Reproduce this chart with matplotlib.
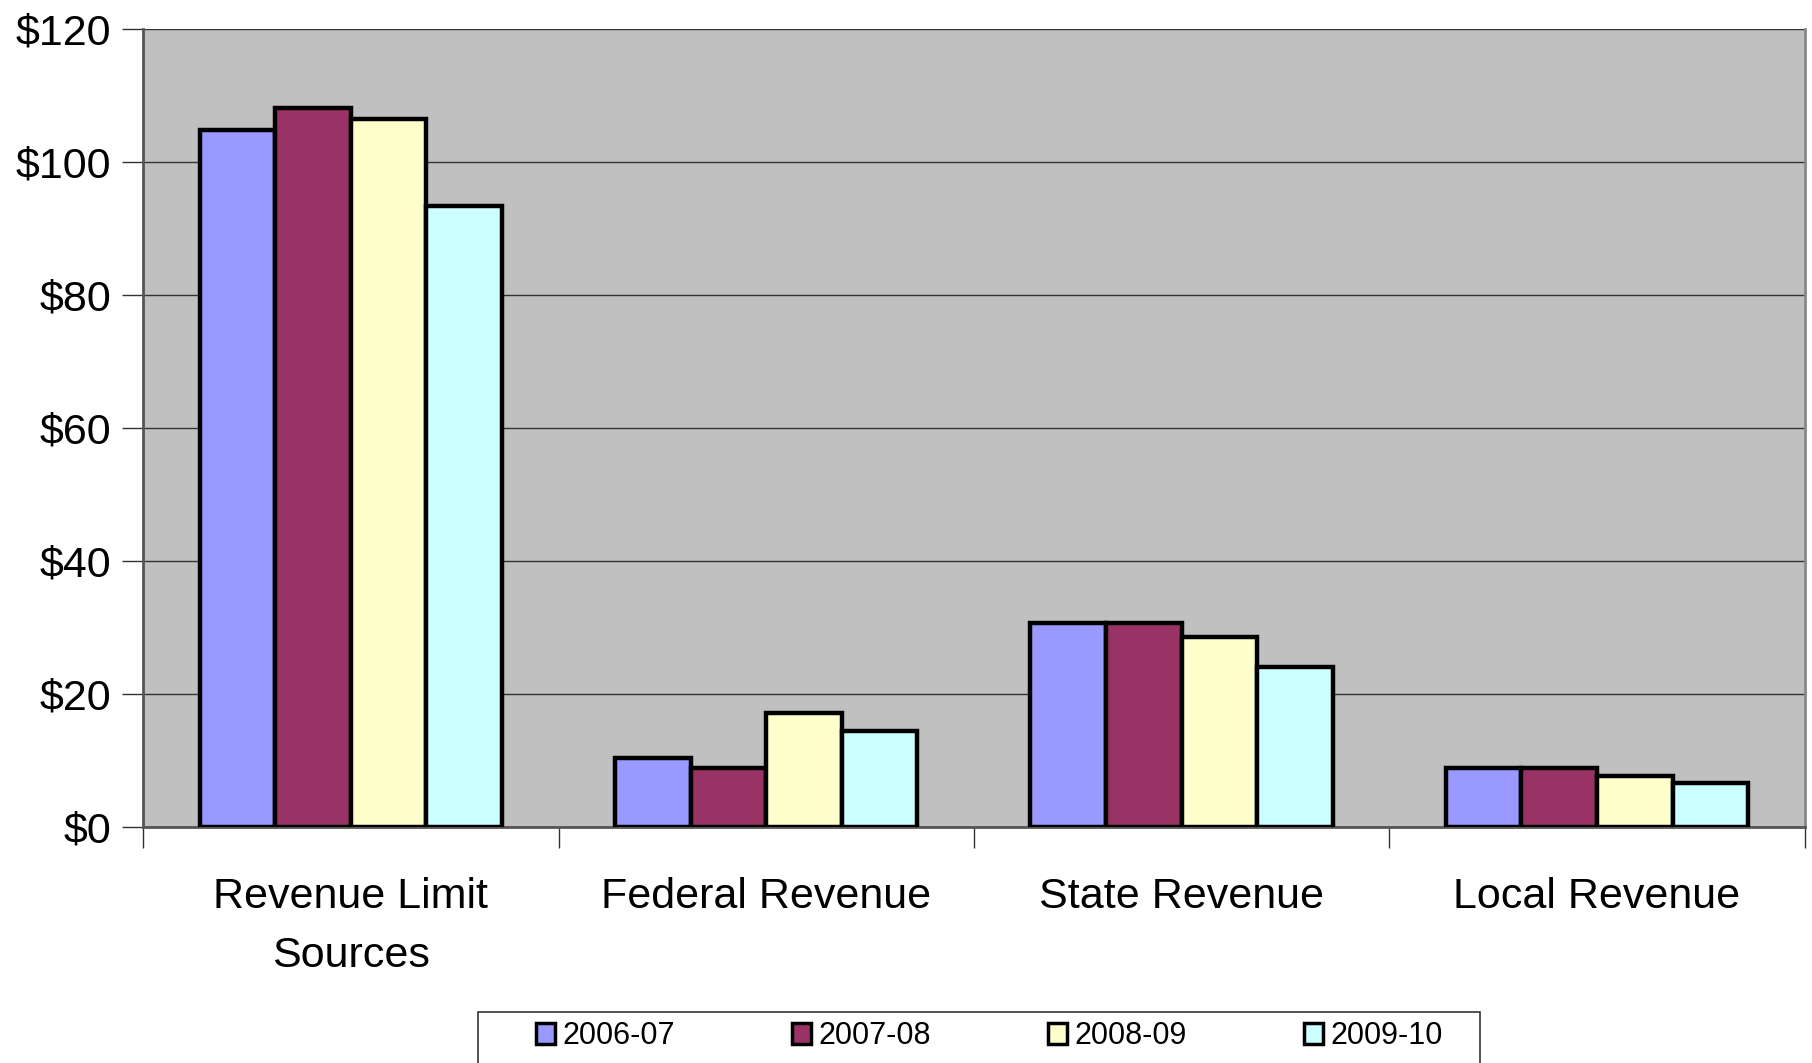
import numpy as np
import matplotlib.pyplot as plt
from matplotlib.patches import Rectangle
from matplotlib.ticker import FuncFormatter

categories = ['Revenue Limit\nSources', 'Federal Revenue', 'State Revenue', 'Local Revenue']
years = ['2006-07', '2007-08', '2008-09', '2009-10']
rev_2006 = [104.8, 10.4, 30.6, 8.9]
rev_2007 = [108.1, 8.9, 30.6, 8.9]
rev_2008 = [106.4, 17.2, 28.5, 7.6]
rev_2009 = [93.4, 14.4, 24.0, 6.6]
colors = ['#9999FF', '#993366', '#FFFFCC', '#CCFFFF']

plt.rcParams['font.family'] = ['Liberation Sans', 'DejaVu Sans']

fig = plt.figure(figsize=(18.12, 10.63), dpi=100)
ax = fig.add_axes([0.079, 0.222, 0.917, 0.751])
ax.set_facecolor('#C0C0C0')

x = np.arange(len(categories))
width = 0.182
series = [rev_2006, rev_2007, rev_2008, rev_2009]
for i, (vals, c, lab) in enumerate(zip(series, colors, years)):
    ax.bar(x + (i - 1.5) * width, vals, width, color=c, edgecolor='black',
           linewidth=3.2, label=lab, zorder=3)

ax.set_xlim(-0.5, 3.5)
ax.set_ylim(0, 120)
ax.set_yticks(np.arange(0, 121, 20))
ax.yaxis.set_major_formatter(FuncFormatter(lambda v, p: f'${v:.0f}'))
ax.grid(axis='y', color='#333333', linewidth=1, zorder=0)
ax.set_axisbelow(True)

# category labels between boundary ticks
ax.set_xticks(x)
ax.set_xticklabels(categories, fontsize=31, linespacing=1.6)
ax.tick_params(axis='x', length=0, pad=36)
ax.set_xticks(np.arange(-0.5, 3.6, 1), minor=True)
ax.tick_params(axis='x', which='minor', length=15, width=1, color='#333333')
ax.tick_params(axis='y', labelsize=31, length=15, width=1, color='#333333', pad=8)

for side in ['top', 'right']:
    ax.spines[side].set_visible(False)
ax.spines['left'].set_color('#555555')
ax.spines['left'].set_linewidth(2)
ax.spines['bottom'].set_color('#555555')
ax.spines['bottom'].set_linewidth(2)
ax.plot([1, 1], [0, 1], transform=ax.transAxes, color='#888888', linewidth=2, clip_on=False)

# legend box runs off the bottom edge like the original
fig.patches.append(Rectangle((0.264, -0.05), 0.553, 0.0978, transform=fig.transFigure,
                             facecolor='white', edgecolor='#333333', linewidth=1.2))
leg = fig.legend(loc='upper left', bbox_to_anchor=(0.2959, 1 - 884 / 920), ncol=4,
                 fontsize=22, frameon=False,
                 handlelength=0.6, handleheight=0.65, handletextpad=0.25,
                 columnspacing=3.85, borderpad=0, borderaxespad=0)
for h in leg.legend_handles:
    h.set_linewidth(2.5)

fig.savefig('out.png', dpi=100)
